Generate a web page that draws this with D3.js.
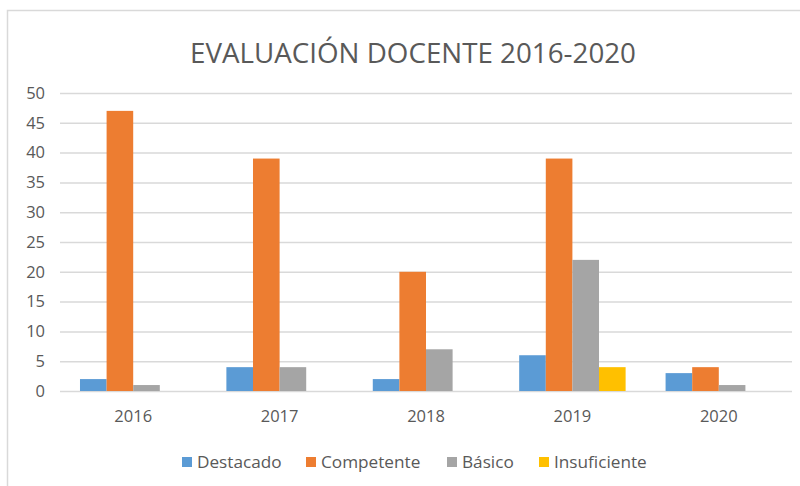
<!DOCTYPE html>
<html>
<head>
<meta charset="utf-8">
<script src="https://cdn.jsdelivr.net/npm/d3@7"></script>
<style>
  body { margin: 0; background: #fff; }
  svg { display: block; }
</style>
</head>
<body>
<div class="canvas"></div>
<script>
// Data
const years = ['2016', '2017', '2018', '2019', '2020'];
const series = ['Destacado', 'Competente', 'Básico', 'Insuficiente'];
const destacado = [2, 4, 2, 6, 3];
const competente = [47, 39, 20, 39, 4];
const basico = [1, 4, 7, 22, 1];
const insuficiente = [0, 0, 0, 4, 0];
const yTicks = [0, 5, 10, 15, 20, 25, 30, 35, 40, 45, 50];

const colors = ['#5B9BD5', '#ED7D31', '#A5A5A5', '#FFC000'];
const values = [destacado, competente, basico, insuficiente];

const dims = { width: 800, height: 486 };
const plot = { left: 60, right: 792, top: 93, bottom: 391 };

const svg = d3.select('.canvas')
    .append('svg')
    .attr('width', dims.width)
    .attr('height', dims.height);

// chart frame
svg.append('rect')
    .attr('x', 7.5).attr('y', 10.5)
    .attr('width', 820).attr('height', 500)
    .attr('fill', '#fff')
    .attr('stroke', '#D9D9D9')
    .attr('stroke-width', 1.5);

// Title
const title = svg.append('text')
    .attr('x', 413)
    .attr('y', 63)
    .attr('text-anchor', 'middle')
    .attr('fill', '#595959')
    .style('font-family', '"Liberation Sans Narrow", "Open Sans", sans-serif')
    .style('font-size', '33px')
    .text('EVALUACIÓN DOCENTE 2016-2020');
// fit to the reference width
const tw = title.node().getComputedTextLength();
title.style('font-size', (33 * 446 / tw) + 'px');

// Scales
const x0 = d3.scaleBand()
    .domain(years)
    .range([plot.left, plot.right])
    .paddingInner(0.273)
    .paddingOuter(0.1365);

const x1 = d3.scaleBand()
    .domain(series)
    .range([0, x0.bandwidth()]);

const y = d3.scaleLinear()
    .domain([0, 50])
    .range([plot.bottom, plot.top]);

// Gridlines + y axis
const yAxis = d3.axisLeft(y)
    .tickValues(yTicks)
    .tickSize(-(plot.right - plot.left))
    .tickPadding(15);

const yg = svg.append('g')
    .attr('transform', `translate(${plot.left}, 0)`)
    .call(yAxis);
yg.select('.domain').remove();
yg.selectAll('line').attr('stroke', '#D9D9D9').attr('stroke-width', 1.5);
yg.selectAll('text')
    .attr('fill', '#595959')
    .style('font-family', '"Open Sans", sans-serif')
    .style('font-size', '16.5px');

// Bars
const groups = svg.append('g')
    .selectAll('g')
    .data(years)
    .enter()
    .append('g')
    .attr('transform', d => `translate(${x0(d)}, 0)`);

groups.selectAll('rect')
    .data((d, i) => series.map((s, j) => ({ s, v: values[j][i], c: colors[j] })))
    .enter()
    .append('rect')
    .attr('x', d => x1(d.s))
    .attr('y', d => y(d.v))
    .attr('width', x1.bandwidth())
    .attr('height', d => y(0) - y(d.v))
    .attr('fill', d => d.c);

// x axis labels
const xAxis = d3.axisBottom(x0).tickSize(0).tickPadding(19);
const xg = svg.append('g')
    .attr('transform', `translate(0, ${plot.bottom})`)
    .call(xAxis);
xg.select('.domain').remove();
xg.selectAll('text')
    .attr('fill', '#595959')
    .style('font-family', '"Open Sans", sans-serif')
    .style('font-size', '16.5px');

// Legend
const legendX = [182, 306, 447, 539];
const legend = svg.append('g')
    .selectAll('g')
    .data(series)
    .enter()
    .append('g')
    .attr('transform', (d, i) => `translate(${legendX[i]}, 462)`);

legend.append('rect')
    .attr('x', 0).attr('y', -5)
    .attr('width', 10).attr('height', 10)
    .attr('fill', (d, i) => colors[i]);

legend.append('text')
    .attr('x', 15)
    .attr('y', 0)
    .attr('dy', '0.35em')
    .attr('fill', '#595959')
    .style('font-family', '"Open Sans", sans-serif')
    .style('font-size', '17.2px')
    .text(d => d);
</script>
</body>
</html>
